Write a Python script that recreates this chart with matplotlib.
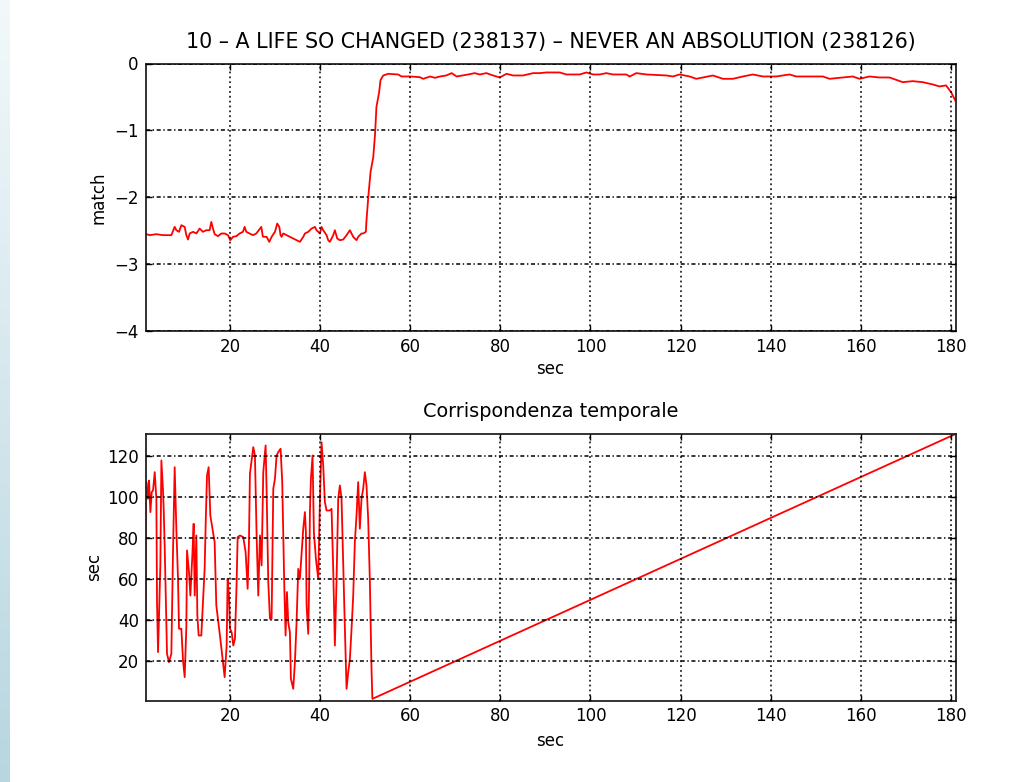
import numpy as np
import matplotlib
matplotlib.use("Agg")
import matplotlib.pyplot as plt

# ---------------- data ----------------
title_top = "10 – A LIFE SO CHANGED (238137) – NEVER AN ABSOLUTION (238126)"
title_bottom = "Corrispondenza temporale"

# top panel: match score vs time
match_t = [1.3, 1.45, 2.19, 3.67, 5.14, 6.99, 7.73, 8.10, 8.69, 9.21, 9.95, 10.32, 10.69,
           11.06, 11.80, 12.54, 13.27, 14.01, 14.75, 15.49, 15.86, 16.23, 16.60, 17.34,
           18.08, 18.82, 19.56, 20.07, 20.67, 21.40, 22.14, 22.88, 23.25, 23.62, 24.36,
           25.10, 25.84, 26.95, 27.3, 28.13, 28.72, 29.24, 29.98, 30.49, 30.94, 31.23,
           31.45, 31.82, 32.56, 33.30, 34.04, 34.78, 35.52, 36.26, 36.63, 37.37, 38.11,
           38.85, 39.21, 39.95, 40.32, 40.69, 41.43, 41.80, 42.17, 42.91, 43.28, 43.80,
           44.39, 45.13, 45.87, 46.61, 46.98, 47.35, 48.08, 48.45, 49.19, 49.56, 50.15,
           50.30, 50.7, 51.2, 51.8, 52.2, 52.5, 53.1, 53.4, 54.0, 55.1, 57.3, 58.1, 59.9,
           62.1, 62.9, 64.4, 65.5, 66.6, 68.0, 69.2, 70.3, 72.85, 74.32, 75.43, 76.91,
           78.39, 79.87, 81.35, 82.82, 85.04, 87.26, 88.74, 90.22, 93.17, 94.65, 97.61,
           99.08, 100.56, 102.04, 103.52, 104.99, 107.95, 108.69, 110.17, 112.39, 116.82,
           118.30, 119.78, 122.0, 123.47, 124.95, 127.17, 129.39, 131.6, 133.82, 136.04,
           138.25, 141.21, 144.17, 145.65, 148.6, 151.56, 153.04, 156.0, 158.21, 159.69,
           161.91, 164.12, 166.34, 167.82, 169.3, 171.51, 173.73, 175.95, 177.43, 178.9,
           180.01, 180.75, 181.0]
match_v = [-2.55, -2.552, -2.567, -2.552, -2.567, -2.567, -2.443, -2.493, -2.517, -2.418,
           -2.443, -2.567, -2.632, -2.542, -2.517, -2.542, -2.468, -2.517, -2.493, -2.493,
           -2.368, -2.468, -2.552, -2.582, -2.542, -2.542, -2.567, -2.642, -2.592, -2.582,
           -2.542, -2.517, -2.443, -2.517, -2.542, -2.567, -2.542, -2.443, -2.59, -2.592,
           -2.667, -2.592, -2.517, -2.393, -2.443, -2.567, -2.592, -2.542, -2.567, -2.592,
           -2.617, -2.642, -2.667, -2.592, -2.542, -2.517, -2.468, -2.443, -2.493, -2.542,
           -2.443, -2.493, -2.567, -2.642, -2.667, -2.567, -2.493, -2.617, -2.642, -2.632,
           -2.567, -2.493, -2.542, -2.592, -2.642, -2.592, -2.542, -2.542, -2.517, -2.343,
           -1.99, -1.62, -1.40, -1.05, -0.65, -0.43, -0.25, -0.18, -0.154, -0.164, -0.194,
           -0.194, -0.204, -0.229, -0.194, -0.214, -0.194, -0.179, -0.144, -0.194, -0.164,
           -0.144, -0.164, -0.144, -0.179, -0.209, -0.154, -0.179, -0.179, -0.144, -0.144,
           -0.134, -0.134, -0.164, -0.164, -0.134, -0.164, -0.164, -0.144, -0.164, -0.164,
           -0.194, -0.144, -0.164, -0.179, -0.194, -0.164, -0.194, -0.229, -0.209, -0.179,
           -0.229, -0.229, -0.194, -0.164, -0.194, -0.194, -0.164, -0.194, -0.194, -0.194,
           -0.229, -0.209, -0.194, -0.229, -0.194, -0.209, -0.209, -0.244, -0.279, -0.264,
           -0.279, -0.313, -0.343, -0.328, -0.428, -0.527, -0.56]

# bottom panel: time correspondence (sec vs sec)
corr_t = [1.3, 1.32, 1.45, 1.82, 2.04, 2.34, 2.63, 2.93, 3.30, 3.67, 3.81, 4.04, 4.26, 4.55,
          4.78, 5.14, 5.29, 5.51, 5.74, 6.03, 6.47, 6.99, 7.36, 7.73, 8.10, 8.47, 8.69, 9.21,
          9.58, 9.95, 10.32, 10.47, 10.91, 11.21, 11.65, 11.94, 12.17, 12.54, 12.76, 13.05,
          13.64, 13.87, 14.38, 14.61, 14.90, 15.27, 15.64, 16.23, 16.60, 16.97, 17.86, 18.45,
          18.82, 19.26, 19.48, 19.78, 20.0, 20.37, 20.74, 21.11, 21.48, 21.70, 22.22, 22.95,
          23.47, 23.92, 24.21, 24.43, 25.17, 25.54, 25.91, 26.28, 26.65, 27.02, 27.39, 27.91,
          28.13, 28.50, 28.87, 29.24, 29.61, 29.98, 30.35, 30.72, 31.23, 31.60, 32.05, 32.34,
          32.64, 32.93, 33.30, 33.52, 34.04, 34.41, 34.78, 35.15, 35.52, 36.26, 36.63, 36.85,
          37.0, 37.37, 37.59, 37.74, 37.96, 38.33, 38.62, 39.07, 39.59, 39.95, 40.32, 40.69,
          41.06, 41.43, 42.17, 42.54, 42.91, 43.28, 43.65, 44.02, 44.39, 44.76, 45.13, 45.50,
          45.87, 46.24, 46.61, 46.98, 47.35, 47.71, 48.08, 48.45, 48.82, 49.19, 49.56, 49.93,
          50.30, 50.67, 51.04, 51.41, 51.6, 181.0]
corr_v = [39.0, 103.3, 107.3, 99.2, 108.1, 92.7, 102.4, 103.3, 112.2, 99.2, 48.8, 24.4, 42.3,
          66.7, 117.9, 103.3, 94.3, 76.4, 52.0, 23.6, 19.5, 23.6, 73.2, 114.6, 84.6, 60.2,
          35.8, 35.8, 20.3, 12.2, 36.6, 74.0, 63.4, 52.0, 71.5, 87.0, 52.0, 81.3, 42.3, 32.5,
          32.5, 42.3, 65.0, 87.0, 110.6, 114.6, 91.1, 82.9, 78.0, 47.2, 30.9, 19.5, 12.2,
          27.6, 60.2, 52.0, 35.8, 34.1, 27.6, 30.9, 58.5, 80.5, 81.3, 80.5, 73.2, 55.3, 78.0,
          111.4, 124.4, 120.3, 81.3, 52.0, 81.3, 66.7, 112.2, 125.2, 103.3, 58.5, 40.7, 40.7,
          104.1, 108.9, 120.3, 122.0, 123.6, 107.3, 56.9, 32.5, 53.7, 39.0, 34.1, 11.4, 6.5,
          19.5, 39.0, 65.0, 60.2, 84.6, 92.7, 82.9, 47.2, 33.3, 60.2, 92.7, 108.9, 120.3,
          82.9, 69.9, 60.2, 97.6, 126.8, 115.4, 97.6, 93.5, 93.5, 94.3, 65.0, 27.6, 59.3,
          99.2, 105.7, 99.2, 66.7, 35.8, 6.5, 14.6, 21.1, 35.8, 52.0, 78.0, 91.1, 107.3, 84.6,
          99.2, 104.1, 112.2, 105.7, 89.4, 59.3, 16.1, 1.6, 130.8]

x_ticks = [20, 40, 60, 80, 100, 120, 140, 160, 180]
top_yticks = [0, -1, -2, -3, -4]
bot_yticks = [20, 40, 60, 80, 100, 120]

# ---------------- style ----------------
plt.rcParams['font.family'] = ['DejaVu Sans']
plt.rcParams['lines.scale_dashes'] = False

W, H = 1036, 782
fig = plt.figure(figsize=(W / 100, H / 100), dpi=100, facecolor='white')

# left slide-edge gradient
gax = fig.add_axes([0, 0, 10 / W, 1])
grad = np.linspace(0, 1, 256)[:, None]
c_top = np.array([0.95, 0.975, 0.98])
c_bot = np.array([0.72, 0.84, 0.88])
img = c_top[None, None, :] * (1 - grad[:, :, None]) + c_bot[None, None, :] * grad[:, :, None]
gax.imshow(img, aspect='auto', extent=[0, 1, 0, 1], origin='upper')
gax.axis('off')

def px_axes(l, t, r, b):
    return fig.add_axes([l / W, 1 - b / H, (r - l) / W, (b - t) / H])

ax1 = px_axes(145.7, 63.5, 955.5, 331)
ax2 = px_axes(145.7, 434, 955.5, 700.5)

red = '#ff0000'
ax1.plot(match_t, match_v, color=red, lw=1.3)
ax2.plot(corr_t, corr_v, color=red, lw=1.3)

ax1.set_xlim(1.3, 181)
ax1.set_ylim(-4, 0)
ax2.set_xlim(1.3, 181)
ax2.set_ylim(0.8, 130.8)

for ax, yt in ((ax1, top_yticks), (ax2, bot_yticks)):
    ax.set_xticks(x_ticks)
    ax.set_yticks(yt)
    ax.tick_params(direction='in', length=4, width=1, top=True, right=True,
                   labelsize=12, pad=5, colors='black')
    for s in ax.spines.values():
        s.set_linewidth(1.3)
        s.set_color('#222222')
    ax.xaxis.grid(True, color='black', lw=1.1, linestyle=(0, (1.3, 2.2)))
    ax.yaxis.grid(True, color='black', lw=1.1, linestyle=(0, (2.9, 1.9, 1.0, 1.9)))
    ax.set_axisbelow(False)

ax1.set_xlabel('sec', fontsize=12, labelpad=3)
ax2.set_xlabel('sec', fontsize=12, labelpad=4.5)
ax1.set_yticklabels(['0', '\u22121', '\u22122', '\u22123', '\u22124'])
ax1.set_ylabel('match', fontsize=12, labelpad=5)
ax2.set_ylabel('sec', fontsize=12, labelpad=3)
ax1.set_title(title_top, fontsize=14.9, pad=11)
ax2.set_title(title_bottom, fontsize=13.9, pad=12)

fig.savefig('out.png', dpi=100, facecolor='white')
